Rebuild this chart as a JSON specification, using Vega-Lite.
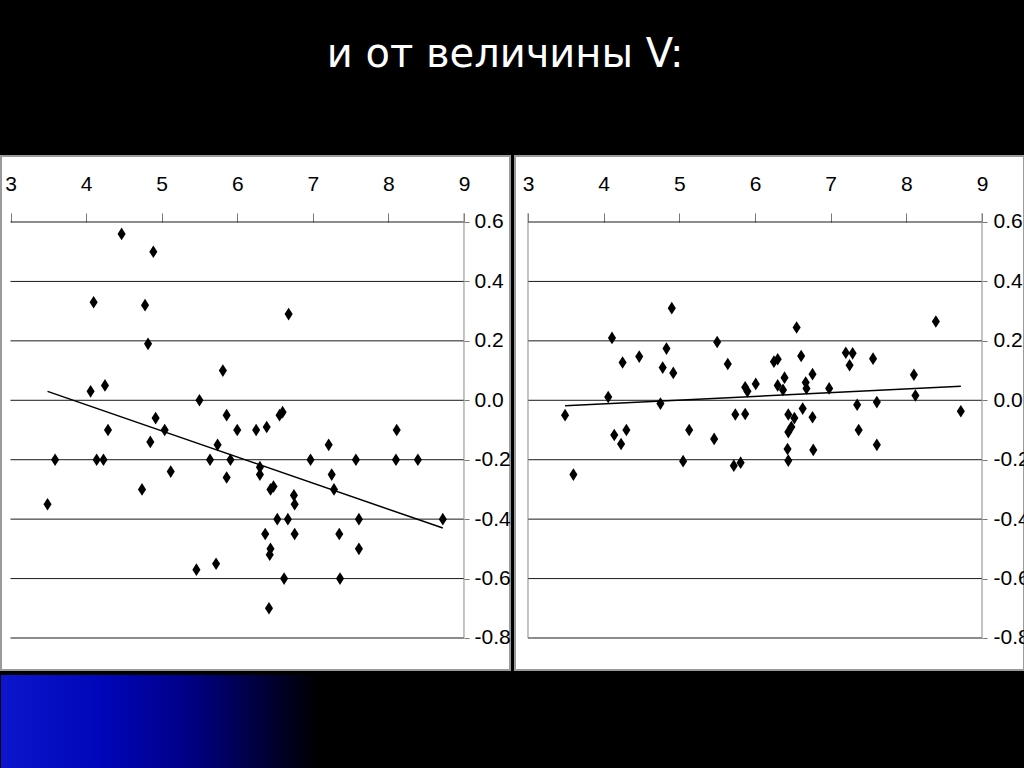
{
  "$schema": "https://vega.github.io/schema/vega-lite/v6.json",
  "background": "black",
  "padding": {"top": 35, "left": 0, "right": 0, "bottom": 0},
  "title": {
    "text": "и от величины V:",
    "font": "DejaVu Sans",
    "fontSize": 40,
    "fontWeight": "normal",
    "color": "white",
    "anchor": "middle",
    "baseline": "alphabetic",
    "offset": 48,
    "dx": -10
  },
  "config": {
    "axis": {
      "labelFont": "Liberation Sans",
      "labelFontSize": 21,
      "labelColor": "black",
      "tickColor": "#777777",
      "domain": false,
      "grid": false,
      "title": null
    }
  },
  "datasets": {
    "grid": [{"g": 0.6}, {"g": 0.4}, {"g": 0.2}, {"g": 0.0}, {"g": -0.2}, {"g": -0.4}, {"g": -0.6}, {"g": -0.8}],
    "left": [
      {"v": 4.47, "d": 0.56}, {"v": 4.89, "d": 0.50}, {"v": 4.10, "d": 0.33}, {"v": 4.78, "d": 0.32},
      {"v": 6.68, "d": 0.29}, {"v": 4.82, "d": 0.19}, {"v": 5.81, "d": 0.10}, {"v": 4.06, "d": 0.03},
      {"v": 4.25, "d": 0.05}, {"v": 5.50, "d": 0.00}, {"v": 4.92, "d": -0.06}, {"v": 5.86, "d": -0.05},
      {"v": 6.56, "d": -0.05}, {"v": 6.60, "d": -0.04}, {"v": 3.59, "d": -0.20}, {"v": 3.49, "d": -0.35},
      {"v": 4.14, "d": -0.20}, {"v": 4.23, "d": -0.20}, {"v": 4.29, "d": -0.10}, {"v": 4.85, "d": -0.14},
      {"v": 5.04, "d": -0.10}, {"v": 5.12, "d": -0.24}, {"v": 4.74, "d": -0.30}, {"v": 5.46, "d": -0.57},
      {"v": 5.72, "d": -0.55}, {"v": 5.64, "d": -0.20}, {"v": 5.74, "d": -0.15}, {"v": 5.91, "d": -0.20},
      {"v": 5.86, "d": -0.26}, {"v": 6.00, "d": -0.10}, {"v": 6.25, "d": -0.10}, {"v": 6.39, "d": -0.09},
      {"v": 6.30, "d": -0.225}, {"v": 6.30, "d": -0.25}, {"v": 6.44, "d": -0.30}, {"v": 6.48, "d": -0.29},
      {"v": 6.75, "d": -0.32}, {"v": 6.76, "d": -0.35}, {"v": 6.53, "d": -0.40}, {"v": 6.67, "d": -0.40},
      {"v": 6.37, "d": -0.45}, {"v": 6.76, "d": -0.45}, {"v": 6.44, "d": -0.50}, {"v": 6.43, "d": -0.52},
      {"v": 6.62, "d": -0.60}, {"v": 6.42, "d": -0.70}, {"v": 6.97, "d": -0.20}, {"v": 7.21, "d": -0.15},
      {"v": 7.25, "d": -0.25}, {"v": 7.28, "d": -0.30}, {"v": 7.35, "d": -0.45}, {"v": 7.36, "d": -0.60},
      {"v": 7.57, "d": -0.20}, {"v": 7.61, "d": -0.40}, {"v": 7.61, "d": -0.50}, {"v": 8.11, "d": -0.10},
      {"v": 8.10, "d": -0.20}, {"v": 8.39, "d": -0.20}, {"v": 8.72, "d": -0.40}
    ],
    "right": [
      {"v": 4.90, "d": 0.31}, {"v": 8.39, "d": 0.265}, {"v": 6.55, "d": 0.245}, {"v": 4.11, "d": 0.21},
      {"v": 5.50, "d": 0.196}, {"v": 4.83, "d": 0.174}, {"v": 4.47, "d": 0.147}, {"v": 4.25, "d": 0.127},
      {"v": 4.78, "d": 0.11}, {"v": 4.92, "d": 0.092}, {"v": 5.64, "d": 0.122}, {"v": 6.25, "d": 0.13},
      {"v": 6.30, "d": 0.138}, {"v": 6.61, "d": 0.149}, {"v": 7.20, "d": 0.16}, {"v": 7.29, "d": 0.158},
      {"v": 7.25, "d": 0.118}, {"v": 7.56, "d": 0.14}, {"v": 8.10, "d": 0.086}, {"v": 8.12, "d": 0.016},
      {"v": 6.39, "d": 0.076}, {"v": 6.76, "d": 0.088}, {"v": 6.67, "d": 0.06}, {"v": 6.68, "d": 0.04},
      {"v": 6.30, "d": 0.05}, {"v": 6.37, "d": 0.035}, {"v": 6.01, "d": 0.055}, {"v": 5.87, "d": 0.044},
      {"v": 5.90, "d": 0.03}, {"v": 6.98, "d": 0.04}, {"v": 4.06, "d": 0.011}, {"v": 4.75, "d": -0.011},
      {"v": 7.35, "d": -0.015}, {"v": 7.61, "d": -0.006}, {"v": 8.72, "d": -0.037}, {"v": 3.49, "d": -0.05},
      {"v": 3.60, "d": -0.25}, {"v": 4.14, "d": -0.117}, {"v": 4.30, "d": -0.10}, {"v": 4.23, "d": -0.147},
      {"v": 5.13, "d": -0.10}, {"v": 5.05, "d": -0.205}, {"v": 5.46, "d": -0.13}, {"v": 5.74, "d": -0.048},
      {"v": 5.87, "d": -0.046}, {"v": 5.72, "d": -0.22}, {"v": 5.81, "d": -0.21}, {"v": 6.44, "d": -0.048},
      {"v": 6.52, "d": -0.06}, {"v": 6.63, "d": -0.028}, {"v": 6.76, "d": -0.057}, {"v": 6.48, "d": -0.09},
      {"v": 6.44, "d": -0.107}, {"v": 6.43, "d": -0.164}, {"v": 6.44, "d": -0.203}, {"v": 6.77, "d": -0.167},
      {"v": 7.37, "d": -0.10}, {"v": 7.61, "d": -0.15}
    ],
    "leftTrend": [{"v": 3.49, "d": 0.03}, {"v": 8.72, "d": -0.43}],
    "rightTrend": [{"v": 3.49, "d": -0.018}, {"v": 8.72, "d": 0.047}]
  },
  "vconcat": [
    {
      "spacing": 5,
      "bounds": "flush",
      "hconcat": [
        {
          "width": 509,
          "height": 514,
          "view": {"fill": "white", "stroke": "#9a9a9a", "strokeWidth": 2},
          "layer": [
            {
              "data": {"name": "grid"},
              "mark": {"type": "rule", "color": "#1a1a1a", "strokeWidth": 1},
              "encoding": {
                "x": {"datum": 3, "type": "quantitative", "scale": {"domain": [2.8743, 9.609], "nice": false, "zero": false},
                  "axis": {"orient": "top", "offset": -66, "values": [3, 4, 5, 6, 7, 8, 9], "format": "d", "tickSize": 9, "labelPadding": 19}},
                "x2": {"datum": 9},
                "y": {"field": "g", "type": "quantitative", "scale": {"domain": [-0.9077, 0.8221], "nice": false, "zero": false},
                  "axis": {"orient": "right", "offset": -46, "values": [0.6, 0.4, 0.2, 0, -0.2, -0.4, -0.6, -0.8], "tickSize": 5, "labelPadding": 5,
                    "labelExpr": "datum.value < -0.001 ? '-' + format(-datum.value, '.1f') : format(abs(datum.value), '.1f')"}}
              }
            },
            {
              "data": {"values": [{}]},
              "mark": {"type": "rule", "color": "#888888", "strokeWidth": 1},
              "encoding": {
                "x": {"datum": 9, "type": "quantitative"},
                "y": {"datum": -0.8, "type": "quantitative"},
                "y2": {"datum": 0.63}
              }
            },
            {
              "data": {"name": "leftTrend"},
              "mark": {"type": "line", "color": "black", "strokeWidth": 1.5},
              "encoding": {
                "x": {"field": "v", "type": "quantitative"},
                "y": {"field": "d", "type": "quantitative"}
              }
            },
            {
              "data": {"name": "left"},
              "mark": {"type": "point", "shape": "M-0.64,0L0,-1L0.64,0L0,1Z", "filled": true, "color": "black", "opacity": 1, "size": 160},
              "encoding": {
                "x": {"field": "v", "type": "quantitative"},
                "y": {"field": "d", "type": "quantitative"}
              }
            }
          ]
        },
        {
          "width": 509,
          "height": 514,
          "view": {"fill": "white", "stroke": "#9a9a9a", "strokeWidth": 2},
          "layer": [
            {
              "data": {"name": "grid"},
              "mark": {"type": "rule", "color": "#1a1a1a", "strokeWidth": 1},
              "encoding": {
                "x": {"datum": 3, "type": "quantitative", "scale": {"domain": [2.8282, 9.5549], "nice": false, "zero": false},
                  "axis": {"orient": "top", "offset": -66, "values": [3, 4, 5, 6, 7, 8, 9], "format": "d", "tickSize": 9, "labelPadding": 19}},
                "x2": {"datum": 9},
                "y": {"field": "g", "type": "quantitative", "scale": {"domain": [-0.9077, 0.8221], "nice": false, "zero": false},
                  "axis": {"orient": "right", "offset": -42, "values": [0.6, 0.4, 0.2, 0, -0.2, -0.4, -0.6, -0.8], "tickSize": 5, "labelPadding": 6,
                    "labelExpr": "datum.value < -0.001 ? '-' + format(-datum.value, '.1f') : format(abs(datum.value), '.1f')"}}
              }
            },
            {
              "data": {"values": [{}]},
              "mark": {"type": "rule", "color": "#888888", "strokeWidth": 1},
              "encoding": {
                "x": {"datum": 9, "type": "quantitative"},
                "y": {"datum": -0.8, "type": "quantitative"},
                "y2": {"datum": 0.63}
              }
            },
            {
              "data": {"values": [{}]},
              "mark": {"type": "rule", "color": "#888888", "strokeWidth": 1},
              "encoding": {
                "x": {"datum": 3, "type": "quantitative"},
                "y": {"datum": -0.8, "type": "quantitative"},
                "y2": {"datum": 0.63}
              }
            },
            {
              "data": {"name": "rightTrend"},
              "mark": {"type": "line", "color": "black", "strokeWidth": 1.5},
              "encoding": {
                "x": {"field": "v", "type": "quantitative"},
                "y": {"field": "d", "type": "quantitative"}
              }
            },
            {
              "data": {"name": "right"},
              "mark": {"type": "point", "shape": "M-0.64,0L0,-1L0.64,0L0,1Z", "filled": true, "color": "black", "opacity": 1, "size": 160},
              "encoding": {
                "x": {"field": "v", "type": "quantitative"},
                "y": {"field": "d", "type": "quantitative"}
              }
            }
          ]
        }
      ]
    },
    {
      "width": 1024,
      "height": 96,
      "view": {"stroke": null, "fill": null},
      "data": {"values": [{}]},
      "mark": {
        "type": "rect",
        "fill": {
          "gradient": "linear",
          "x1": 0, "y1": 0, "x2": 1, "y2": 0,
          "stops": [
            {"offset": 0, "color": "#0c16cc"},
            {"offset": 0.1, "color": "#0006b8"},
            {"offset": 0.18, "color": "#000088"},
            {"offset": 0.25, "color": "#000040"},
            {"offset": 0.31, "color": "#000000"},
            {"offset": 1, "color": "#000000"}
          ]
        }
      },
      "encoding": {}
    }
  ],
  "spacing": 4
}
